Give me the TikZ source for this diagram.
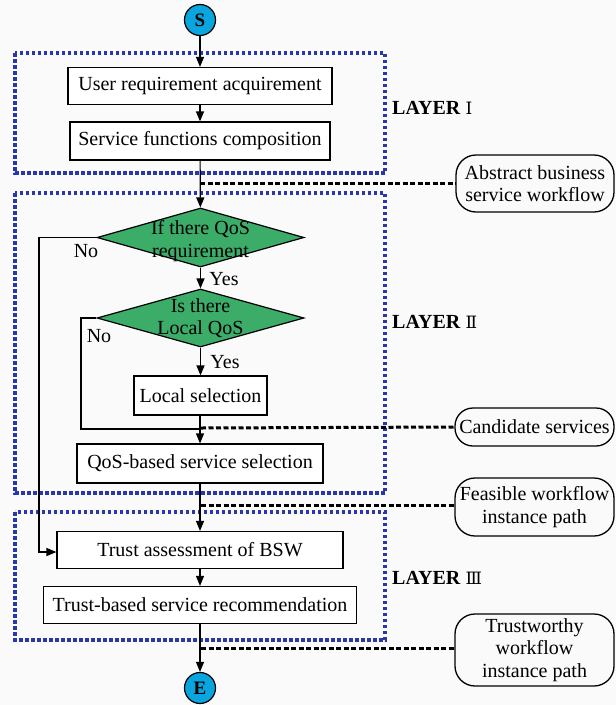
\documentclass[tikz,border=0pt]{standalone}
\usepackage{fontspec}
\setmainfont{Liberation Serif}
\newfontfamily\numf{DejaVu Serif}
\usetikzlibrary{arrows.meta,shapes.geometric}
\definecolor{layerblue}{RGB}{40,55,170}
\definecolor{dgreen}{RGB}{60,172,105}
\definecolor{ecyan}{RGB}{10,165,222}
\definecolor{bgc}{RGB}{250,250,250}
\tikzset{
  every node/.style={font=\fontsize{20}{22.5}\selectfont},
  proc/.style={draw,line width=1.2pt,fill=white,inner sep=0pt},
  decis/.style={draw,line width=1.2pt,fill=dgreen,diamond,inner sep=0pt},
  term/.style={draw,line width=1.2pt,fill=ecyan,circle,minimum size=31pt,inner sep=0pt,font=\fontsize{19}{20}\selectfont\bfseries},
  layer/.style={draw=layerblue,line width=3.2pt,dash pattern=on 3.5pt off 2.5pt},
  callout/.style={draw,line width=1.3pt,rounded corners=20pt,align=center,inner sep=0pt},
  flow/.style={line width=1.2pt,-{Triangle[length=10pt,width=8pt]}},
  plain/.style={line width=1.2pt},
  cdash/.style={line width=3pt,dash pattern=on 5pt off 2.5pt},
  lbl/.style={inner sep=0pt},
  laytxt/.style={anchor=west,inner sep=0pt,font=\fontsize{20}{22}\selectfont}
}
\begin{document}
\begin{tikzpicture}[x=1pt,y=-1pt]
\fill[bgc] (0,0) rectangle (616,705);
\useasboundingbox (0,0) rectangle (616,705);
% layer boxes
\draw[layer] (15,53) rectangle (385,173);
\draw[layer] (15,193) rectangle (385,493);
\draw[layer] (15,512) rectangle (385,640);
% nodes
\node[term] (S) at (200,20) {S};
\node[proc,minimum width=264pt,minimum height=37pt] (ura) at (200,86) {User requirement acquirement};
\node[proc,minimum width=260pt,minimum height=38pt] (sfc) at (200,141) {Service functions composition};
\node[decis,minimum width=207pt,minimum height=59pt] (d1) at (200.5,237.5) {};
\node[lbl,align=center] (d1t) at (200.5,241) {If there QoS\\requirement};
\node[decis,minimum width=207pt,minimum height=58pt] (d2) at (200.5,318) {};
\node[lbl,align=center] (d2t) at (200.5,318) {Is there\\Local QoS};
\node[proc,minimum width=133pt,minimum height=39pt] (ls) at (200.5,395.5) {Local selection};
\node[proc,minimum width=246pt,minimum height=39pt] (qbs) at (200,463.5) {QoS-based service selection};
\node[proc,minimum width=286pt,minimum height=37pt] (ta) at (200,550) {Trust assessment of BSW};
\node[proc,minimum width=313pt,minimum height=37pt] (tbs) at (200,605) {Trust-based service recommendation};
\node[term] (E) at (200,688) {E};
% labels
\node[lbl] (no1) at (86,251) {No};
\node[lbl] (no2) at (99,336) {No};
\node[lbl] (yes1) at (224,279) {Yes};
\node[lbl] (yes2) at (225,362) {Yes};
\node[laytxt] (L1) at (392,108) {\textbf{LAYER} {\numf\fontsize{17}{20}\selectfont Ⅰ}};
\node[laytxt] (L2) at (392,322) {\textbf{LAYER} {\numf\fontsize{17}{20}\selectfont Ⅱ}};
\node[laytxt] (L3) at (392,578) {\textbf{LAYER} {\numf\fontsize{17}{20}\selectfont Ⅲ}};
% callouts
\node[callout,minimum width=158pt,minimum height=57pt] (c1) at (535,183.5) {Abstract business\\service workflow};
\node[callout,minimum width=159pt,minimum height=38pt,rounded corners=18pt] (c2) at (534.5,427) {Candidate services};
\node[callout,minimum width=159pt,minimum height=58pt] (c3) at (534.5,507) {Feasible workflow\\instance path};
\node[callout,minimum width=159pt,minimum height=72pt] (c4) at (534.5,650) {Trustworthy\\workflow\\instance path};
% connectors
\draw[flow] (S) -- (ura);
\draw[flow] (ura) -- (sfc);
\draw[flow] (sfc) -- (d1);
\draw[flow] (d1) -- (d2);
\draw[flow] (d2) -- (ls);
\coordinate (j1) at (200,429);
\draw[plain] (ls.south -| j1) -- (j1);
\draw[flow] (j1) -- (qbs.north -| j1);
\draw[plain] (d2.west) -- (81,318) -- (81,429) -- (j1);
\draw[flow] (d1.west) -- (39,237.5) -- (39,552) -- (ta.west |- 0,552);
\draw[flow] (qbs) -- (ta);
\draw[flow] (ta) -- (tbs);
\draw[flow] (tbs) -- (E);
% dashed annotation lines
\draw[cdash] (200,183.5) -- (c1.west);
\draw[cdash] (201,428) -- (c2.west);
\draw[cdash] (201,505) -- (c3.west |- 0,505);
\draw[cdash] (201,648) -- (c4.west |- 0,648);
\end{tikzpicture}
\end{document}
